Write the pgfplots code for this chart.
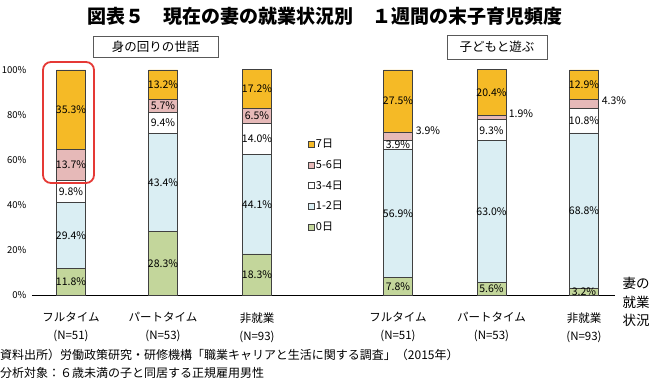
\documentclass[border=0pt]{standalone}
\usepackage{fontspec}
\setmainfont{Noto Sans CJK JP}
\usepackage{pgfplots}
\pgfplotsset{compat=1.18}
\definecolor{c7}{HTML}{F5BA26}
\definecolor{c56}{HTML}{E6B9B8}
\definecolor{c34}{HTML}{FFFFFF}
\definecolor{c12}{HTML}{DAEEF3}
\definecolor{c0}{HTML}{C3D69B}
\definecolor{edge}{HTML}{404040}
\definecolor{hl}{HTML}{E53935}
\pgfplotstableread{
x y label
71 5.9 11.8
71 26.5 29.4
71 46.1 9.8
71 57.85 13.7
71 82.35 35.3
163 14.15 28.3
163 50.0 43.4
163 76.4 9.4
163 83.95 5.7
163 93.4 13.2
257 9.15 18.3
257 40.35 44.1
257 69.4 14.0
257 79.65 6.5
257 91.5 17.2
398 3.9 7.8
398 36.25 56.9
398 66.65 3.9
428 72.9 3.9
398 86.25 27.5
491.5 2.8 5.6
491.5 37.1 63.0
491.5 73.25 9.3
521 80.4 1.9
491.5 90.0 20.4
584 1.6 3.2
584 37.6 68.8
584 77.4 10.8
614 86.2 4.3
584 93.55 12.9
}\labels
\begin{document}
\begin{tikzpicture}[x=1pt,y=1pt]
\path[use as bounding box] (0,0) rectangle (650,380);
\begin{axis}[
  at={(32pt,85pt)}, anchor=south west,
  width=583pt, height=225pt, scale only axis,
  xmin=32, xmax=615, ymin=0, ymax=100,
  clip=false,
  ybar stacked, bar width=29pt,
  axis lines*=left,
  y axis line style={draw=none},
  x axis line style={draw=black, line width=0.8pt},
  major tick length=0pt,
  xtick={71,163,257,398,491.5,584},
  xticklabels={
    {フルタイム\\(N=51)},
    {パートタイム\\(N=53)},
    {非就業\\(N=93)},
    {フルタイム\\(N=51)},
    {パートタイム\\(N=53)},
    {非就業\\(N=93)}},
  xticklabel style={align=center, yshift=-14pt, font=\fontsize{11.5}{18}\selectfont},
  ytick={0,20,40,60,80,100},
  yticklabel={\pgfmathprintnumber{\tick}\%},
  /pgf/number format/assume math mode=true,
  yticklabel style={font=\fontsize{9.5}{10}\selectfont, xshift=-2pt},
  reverse legend,
  legend cell align=left,
  legend image code/.code={\draw[#1,draw=edge,line width=0.5pt] (0pt,-3pt) rectangle (6pt,3pt);},
  legend style={at={(0.473,0.70)}, anchor=north west, draw=none, fill=none,
    font=\fontsize{11}{11}\selectfont, row sep=7.7pt, inner sep=0pt,
    nodes={inner sep=1.5pt}},
  every axis plot/.append style={draw=edge, line width=0.6pt},
]
\addplot[fill=c0] coordinates {(71,11.8) (163,28.3) (257,18.3) (398,7.8) (491.5,5.6) (584,3.2)};
\addplot[fill=c12] coordinates {(71,29.4) (163,43.4) (257,44.1) (398,56.9) (491.5,63.0) (584,68.8)};
\addplot[fill=c34] coordinates {(71,9.8) (163,9.4) (257,14.0) (398,3.9) (491.5,9.3) (584,10.8)};
\addplot[fill=c56] coordinates {(71,13.7) (163,5.7) (257,6.5) (398,3.9) (491.5,1.9) (584,4.3)};
\addplot[fill=c7] coordinates {(71,35.3) (163,13.2) (257,17.2) (398,27.5) (491.5,20.4) (584,12.9)};
\legend{0日,1-2日,3-4日,5-6日,7日}
\end{axis}
\begin{axis}[
  at={(32pt,85pt)}, anchor=south west,
  width=583pt, height=225pt, scale only axis,
  xmin=32, xmax=615, ymin=0, ymax=100,
  clip=false, hide axis,
]
\addplot[only marks, mark=none,
  nodes near coords={\pgfplotspointmeta\%},
  point meta=explicit symbolic,
  every node near coord/.style={anchor=center, font=\fontsize{10.5}{10.5}\selectfont, inner sep=0pt, text=black}]
  table[x=x, y=y, meta=label] {\labels};
\end{axis}
\draw[hl, line width=1.8pt, rounded corners=8pt] (43,318) rectangle (94,197);
\node[font=\bfseries\fontsize{19}{19}\selectfont] at (325,364) {図表５　現在の妻の就業状況別　１週間の末子育児頻度};
\draw[gray!70!black, line width=0.7pt] (93,323) rectangle (218,344);
\node[font=\fontsize{12.5}{12.5}\selectfont] at (155.5,333.5) {身の回りの世話};
\draw[gray!70!black, line width=0.7pt] (447,321) rectangle (547,345);
\node[font=\fontsize{12.5}{12.5}\selectfont] at (497,333) {子どもと遊ぶ};
\node[font=\fontsize{13.5}{18.5}\selectfont, align=left, anchor=west] at (619,78) {妻の\\就業\\状況};
\node[font=\fontsize{12}{12}\selectfont, anchor=west, inner sep=0pt] at (0,25) {資料出所）労働政策研究・研修機構「職業キャリアと生活に関する調査」（2015年）};
\node[font=\fontsize{12}{12}\selectfont, anchor=west, inner sep=0pt] at (0,7) {分析対象：６歳未満の子と同居する正規雇用男性};
\end{tikzpicture}
\end{document}
